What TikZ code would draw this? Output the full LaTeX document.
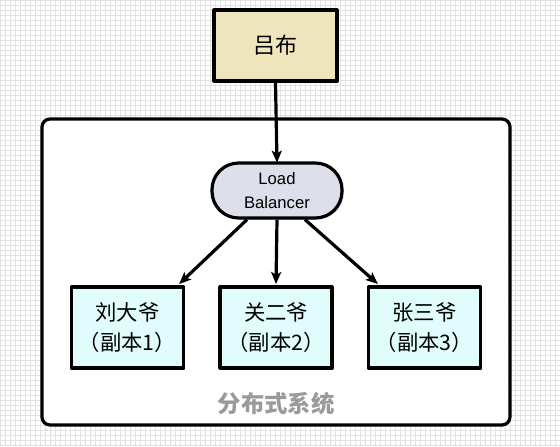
\documentclass[tikz,border=0pt]{standalone}
\usepackage{fontspec}
\setmainfont{Noto Sans CJK SC}
\newfontfamily\latinsans{Liberation Sans}
\usetikzlibrary{arrows.meta,shadows}
\definecolor{gridc}{HTML}{E2E2E2}
\definecolor{tanfill}{HTML}{EFE5BC}
\definecolor{cyanfill}{HTML}{E0FCFC}
\definecolor{lbfill}{HTML}{DDE0EA}
\definecolor{labelgray}{HTML}{9A9A9A}
\tikzset{
  thick box/.style={draw=black, line width=2.4pt, line join=round, line cap=round},
  shadowed/.style={drop shadow={shadow xshift=1.2pt, shadow yshift=-1.2pt, opacity=0.2, fill=black}},
  topbox/.style={thick box, shadowed, fill=tanfill, minimum width=123*0.75pt, minimum height=71*0.75pt, inner sep=0pt, font=\fontsize{16.5}{18}\selectfont},
  replica/.style={thick box, shadowed, fill=cyanfill, minimum width=112*0.75pt, minimum height=81*0.75pt, inner sep=0pt, align=center, font=\fontsize{16}{22.5}\selectfont},
  lbbox/.style={thick box, shadowed, fill=lbfill, minimum width=130*0.75pt, minimum height=55*0.75pt, rounded corners=20pt, inner sep=0pt, align=center, font=\latinsans\fontsize{12.5}{17.5}\selectfont},
  container/.style={draw=black, line width=2.4pt, fill=white, rounded corners=6pt, minimum width=468*0.75pt, minimum height=306*0.75pt, inner sep=0pt},
  arr/.style={draw=black, line width=2.4pt, -{Stealth[length=9pt,width=7.5pt,inset=2pt]}},
  syslabel/.style={text=labelgray, font=\bfseries\fontsize{17.5}{20}\selectfont}
}
\begin{document}
\begin{tikzpicture}[x=0.75pt, y=-0.75pt]
\useasboundingbox (0,0) rectangle (560,446);
\fill[white] (0,0) rectangle (560,446);
\foreach \i in {0,5,...,560} { \draw[gridc, line width=0.6pt] (\i,0) -- (\i,446); }
\foreach \j in {0,5,...,445} { \draw[gridc, line width=0.6pt] (0,\j) -- (560,\j); }

\node[container] (sys) at (276,272) {};
\node[syslabel] (syslab) at (276,404) {分布式系统};

\node[topbox] (lvbu) at (275.5,45.5) {吕布};
\node[lbbox] (lb) at (277,190.5) {Load\\Balancer};

\node[replica] (r1) at (127.5,327.5) {刘大爷\\（副本1）};
\node[replica] (r2) at (276,327.5) {关二爷\\（副本2）};
\node[replica] (r3) at (424.5,327.5) {张三爷\\（副本3）};

\draw[arr] (lvbu.south) -- ([yshift=-1pt]lb.north);
\draw[arr] ([xshift=-30*0.75pt]lb.south) -- ([xshift=-6*0.75pt, yshift=1pt]r1.north east);
\draw[arr] (lb.south) -- ([yshift=1pt]r2.north);
\draw[arr] ([xshift=28*0.75pt]lb.south) -- ([xshift=11*0.75pt, yshift=1pt]r3.north west);
\end{tikzpicture}
\end{document}
